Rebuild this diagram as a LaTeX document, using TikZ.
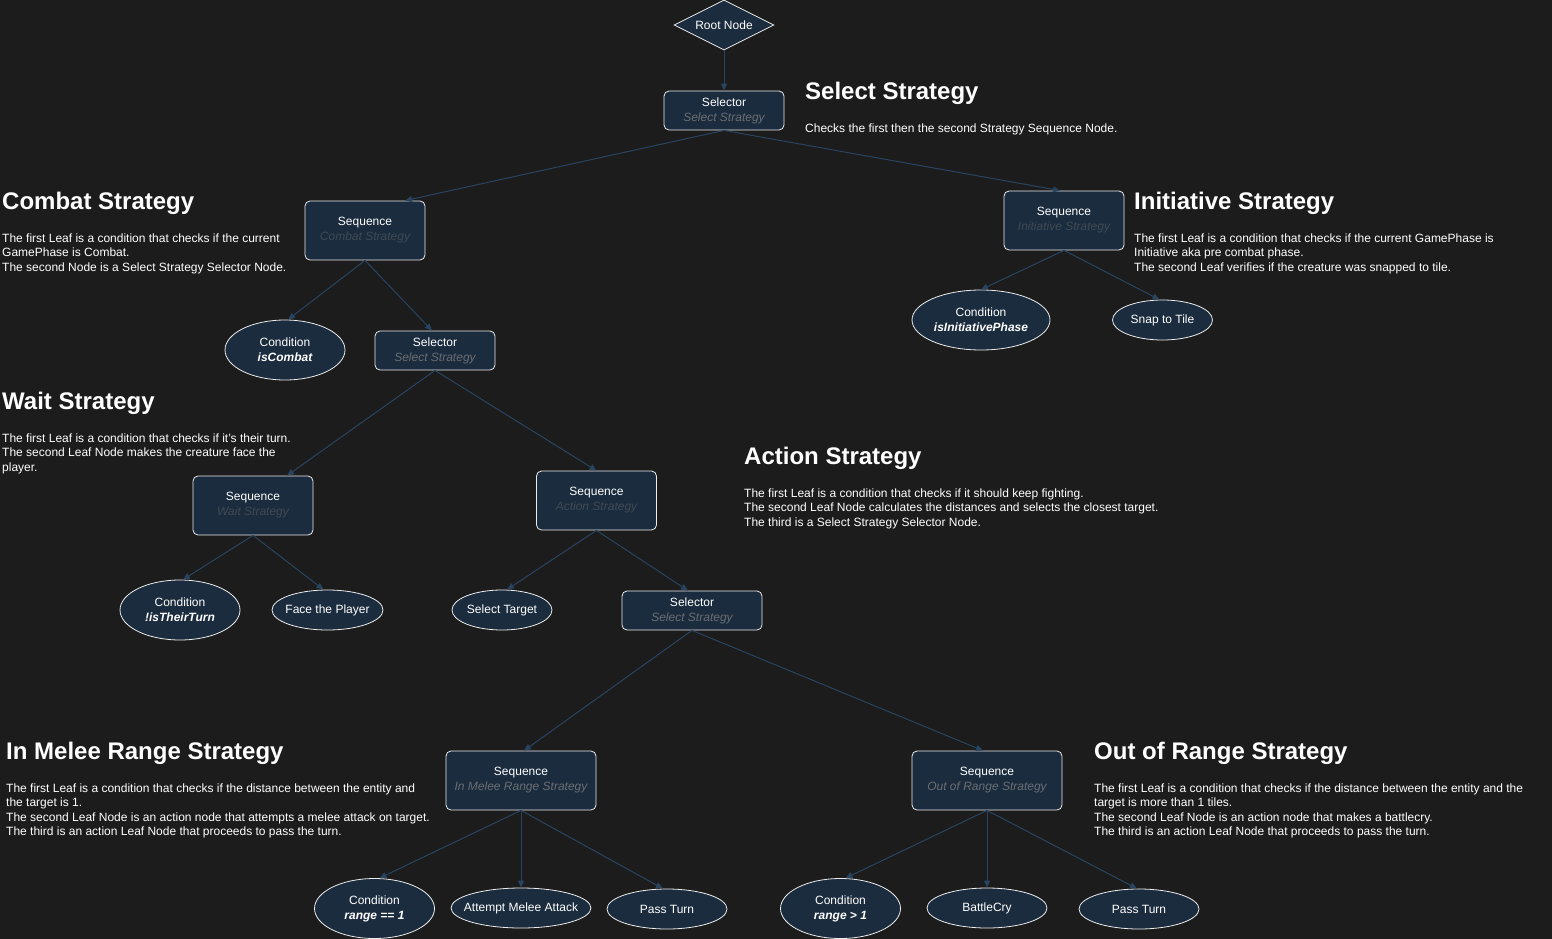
\documentclass[tikz,border=0pt]{standalone}
\usepackage{fontspec}
\setmainfont{Liberation Sans}
\usepackage{xcolor}
\usepackage{tikz}
\usetikzlibrary{positioning,arrows.meta,shapes.geometric}
\definecolor{bgcolor}{RGB}{28, 28, 28}
\definecolor{nodefill}{RGB}{26, 44, 62}
\definecolor{nodeline}{RGB}{236, 236, 236}
\definecolor{edgecolor}{RGB}{40, 68, 96}
\definecolor{submid}{RGB}{106, 110, 115}
\definecolor{subdark}{RGB}{64, 74, 84}
\newcommand{\stratmid}[1]{{\itshape\color{submid}#1}}
\newcommand{\stratdark}[1]{{\itshape\color{subdark}#1}}
\newcommand{\condname}[1]{{\bfseries\itshape #1}}
\tikzset{
    tree node/.style={draw=nodeline, fill=nodefill, line width=0.8pt, inner sep=0pt, align=center, text=white, font=\fontsize{12}{15}\selectfont},
    seq box/.style={tree node, rectangle, rounded corners=5pt, minimum width=120pt, minimum height=59pt},
    sel box/.style={seq box, minimum height=39pt},
    leaf/.style={tree node, ellipse, inner xsep=-25pt, minimum width=120pt, minimum height=40pt},
    cond leaf/.style={leaf, minimum height=60pt},
    root/.style={tree node, diamond, aspect=2, minimum width=100pt, minimum height=50pt},
    tree edge/.style={-{Triangle[length=7pt, width=6pt]}, draw=edgecolor, line width=1pt},
    heading/.style={anchor=west, inner sep=0pt, text=white, font=\fontsize{24}{28}\selectfont\bfseries},
    note/.style={anchor=north west, inner sep=0pt, text=white, align=left, font=\fontsize{12}{14.5}\selectfont}
}
\begin{document}
\begin{tikzpicture}[x=1pt, y=-1pt]
    % Canvas
    \fill[bgcolor] (0,0) rectangle (1552,939);
    \useasboundingbox (0,0) rectangle (1552,939);

    % Root and top selector
    \node[root] (root) at (724,25) {Root Node};
    \node[sel box] (selTop) at (724,110.5) {Selector\\\stratmid{Select Strategy}};
    \node[heading] (hSelect) at (805,93) {Select Strategy};
    \node[note] (nSelect) at (805,123.5) {Checks the first then the second Strategy Sequence Node.};

    % Combat strategy
    \node[seq box] (seqCombat) at (365,230.5) {Sequence\\\stratdark{Combat Strategy}};
    \node[cond leaf] (condCombat) at (285,350) {Condition\\\condname{isCombat}};
    \node[sel box] (selCombat) at (435,350.5) {Selector\\\stratmid{Select Strategy}};
    \node[heading] (hCombat) at (2,203) {Combat Strategy};
    \node[note] (nCombat) at (2,233.5) {The first Leaf is a condition that checks if the current\\GamePhase is Combat.\\The second Node is a Select Strategy Selector Node.};

    % Initiative strategy
    \node[seq box] (seqInit) at (1064,220.5) {Sequence\\\stratdark{Initiative Strategy}};
    \node[cond leaf, minimum width=138pt] (condInit) at (981,320) {Condition\\\condname{isInitiativePhase}};
    \node[leaf, minimum width=100pt] (snapTile) at (1162.5,320) {Snap to Tile};
    \node[heading] (hInit) at (1134,203) {Initiative Strategy};
    \node[note] (nInit) at (1134,233.5) {The first Leaf is a condition that checks if the current GamePhase is\\Initiative aka pre combat phase.\\The second Leaf verifies if the creature was snapped to tile.};

    % Wait strategy
    \node[seq box] (seqWait) at (253,505.5) {Sequence\\\stratdark{Wait Strategy}};
    \node[cond leaf] (condTurn) at (180,610) {Condition\\\condname{!isTheirTurn}};
    \node[leaf, minimum width=111pt] (facePlayer) at (327.5,610) {Face the Player};
    \node[heading] (hWait) at (2,403) {Wait Strategy};
    \node[note] (nWait) at (2,433.5) {The first Leaf is a condition that checks if it's their turn.\\The second Leaf Node makes the creature face the\\player.};

    % Action strategy
    \node[seq box] (seqAction) at (596.5,500.5) {Sequence\\\stratdark{Action Strategy}};
    \node[leaf, minimum width=100pt] (selectTarget) at (502,610) {Select Target};
    \node[sel box, minimum width=140pt] (selAction) at (692,610.5) {Selector\\\stratmid{Select Strategy}};
    \node[heading] (hAction) at (744,458) {Action Strategy};
    \node[note] (nAction) at (744,488.5) {The first Leaf is a condition that checks if it should keep fighting.\\The second Leaf Node calculates the distances and selects the closest target.\\The third is a Select Strategy Selector Node.};

    % In melee range strategy
    \node[seq box, minimum width=150pt] (seqMelee) at (521,780.5) {Sequence\\\stratmid{In Melee Range Strategy}};
    \node[cond leaf] (condMelee) at (374.5,908.5) {Condition\\\condname{range == 1}};
    \node[leaf, minimum width=140pt] (meleeAttack) at (521,908) {Attempt Melee Attack};
    \node[leaf] (passMelee) at (667,909) {Pass Turn};
    \node[heading] (hMelee) at (6,753) {In Melee Range Strategy};
    \node[note] (nMelee) at (6,783.5) {The first Leaf is a condition that checks if the distance between the entity and\\the target is 1.\\The second Leaf Node is an action node that attempts a melee attack on target.\\The third is an action Leaf Node that proceeds to pass the turn.};

    % Out of range strategy
    \node[seq box, minimum width=150pt] (seqRange) at (987,780.5) {Sequence\\\stratmid{Out of Range Strategy}};
    \node[cond leaf] (condRange) at (840.5,908.5) {Condition\\\condname{range > 1}};
    \node[leaf] (battleCry) at (987,908) {BattleCry};
    \node[leaf] (passRange) at (1139,909) {Pass Turn};
    \node[heading] (hRange) at (1094,753) {Out of Range Strategy};
    \node[note] (nRange) at (1094,783.5) {The first Leaf is a condition that checks if the distance between the entity and the\\target is more than 1 tiles.\\The second Leaf Node is an action node that makes a battlecry.\\The third is an action Leaf Node that proceeds to pass the turn.};

    % Edges
    \draw[tree edge] (root.south) -- (selTop.north);
    \draw[tree edge] (selTop.south) -- ([xshift=40pt]seqCombat.north);
    \draw[tree edge] (selTop.south) -- ([xshift=-4pt]seqInit.north);
    \draw[tree edge] (seqCombat.south) -- ([xshift=3pt]condCombat.north);
    \draw[tree edge] (seqCombat.south) -- ([xshift=-3pt]selCombat.north);
    \draw[tree edge] (seqInit.south) -- (condInit.north);
    \draw[tree edge] (seqInit.south) -- ([xshift=-3pt]snapTile.north);
    \draw[tree edge] (selCombat.south) -- ([xshift=34pt]seqWait.north);
    \draw[tree edge] (selCombat.south) -- (seqAction.north);
    \draw[tree edge] (seqWait.south) -- ([xshift=3pt]condTurn.north);
    \draw[tree edge] (seqWait.south) -- ([xshift=-4pt]facePlayer.north);
    \draw[tree edge] (seqAction.south) -- ([xshift=5pt]selectTarget.north);
    \draw[tree edge] (seqAction.south) -- ([xshift=-4pt]selAction.north);
    \draw[tree edge] (selAction.south) -- ([xshift=3pt]seqMelee.north);
    \draw[tree edge] (selAction.south) -- ([xshift=-4pt]seqRange.north);
    \draw[tree edge] (seqMelee.south) -- ([xshift=5pt]condMelee.north);
    \draw[tree edge] (seqMelee.south) -- (meleeAttack.north);
    \draw[tree edge] (seqMelee.south) -- ([xshift=-4pt]passMelee.north);
    \draw[tree edge] (seqRange.south) -- ([xshift=5pt]condRange.north);
    \draw[tree edge] (seqRange.south) -- (battleCry.north);
    \draw[tree edge] (seqRange.south) -- ([xshift=-2pt]passRange.north);
\end{tikzpicture}
\end{document}
